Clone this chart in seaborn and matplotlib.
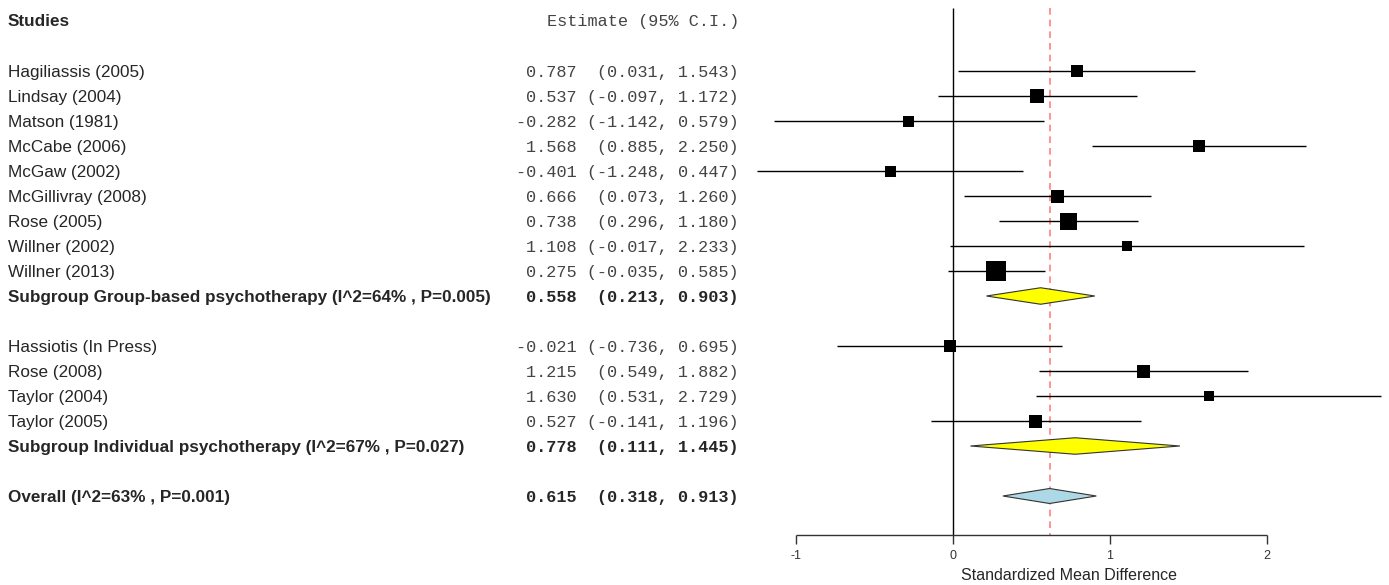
import numpy as np
import pandas as pd
import matplotlib
matplotlib.use("Agg")
import matplotlib.pyplot as plt
import seaborn as sns

# study level data
studies = ["Hagiliassis (2005)", "Lindsay (2004)", "Matson (1981)", "McCabe (2006)",
           "McGaw (2002)", "McGillivray (2008)", "Rose (2005)", "Willner (2002)",
           "Willner (2013)", "Hassiotis (In Press)", "Rose (2008)", "Taylor (2004)",
           "Taylor (2005)"]
est = [0.787, 0.537, -0.282, 1.568, -0.401, 0.666, 0.738, 1.108, 0.275,
       -0.021, 1.215, 1.630, 0.527]
lower = [0.031, -0.097, -1.142, 0.885, -1.248, 0.073, 0.296, -0.017, -0.035,
         -0.736, 0.549, 0.531, -0.141]
upper = [1.543, 1.172, 0.579, 2.250, 0.447, 1.260, 1.180, 2.233, 0.585,
         0.695, 1.882, 2.729, 1.196]
weight = [12, 14, 11, 12, 11, 13, 17, 10, 20, 12, 13, 10, 13]
rows = [1, 2, 3, 4, 5, 6, 7, 8, 9, 12, 13, 14, 15]

# summaries
sum_labels = ["Subgroup Group-based psychotherapy (I^2=64% , P=0.005)",
              "Subgroup Individual psychotherapy (I^2=67% , P=0.027)",
              "Overall (I^2=63% , P=0.001)"]
sum_est = [0.558, 0.778, 0.615]
sum_lower = [0.213, 0.111, 0.318]
sum_upper = [0.903, 1.445, 0.913]
sum_rows = [10, 16, 18]
sum_colors = ["yellow", "yellow", "lightblue"]

ticks = [-1, 0, 1, 2]


def ci_text(e, lo, hi):
    return f"{e:.3f} " + f"({lo:.3f}, {hi:.3f})".rjust(15)


sns.set_style("white")
plt.rcParams["font.family"] = ["Liberation Sans", "DejaVu Sans"]

fig = plt.figure(figsize=(13.89, 5.85), dpi=100)
ax = fig.add_axes([0, 0, 1, 1])
# 157 px per unit, zero at 953 px ; rows 25 px apart, row 1 at 71 px
ax.set_xlim(-953 / 157, (1389 - 953) / 157)
ax.set_ylim(1 + (585 - 71) / 25, 1 - 71 / 25)
ax.axis("off")

axis_y = 1 + (535 - 71) / 25
top_y = 1 - (71 - 8) / 25

ax.vlines(0, top_y, axis_y, color="black", lw=1)
ax.vlines(sum_est[2], top_y, axis_y, color="#ff8080", lw=1.2, ls=(0, (4, 3)))

df = pd.DataFrame({"study": studies, "est": est, "lo": lower, "hi": upper,
                   "w": weight, "row": rows})
ax.hlines(df["row"], df["lo"], df["hi"], color="black", lw=1)
sns.scatterplot(data=df, x="est", y="row", marker="s", color="black",
                s=(df["w"] * 0.72) ** 2, linewidth=0, ax=ax, legend=False, zorder=3)

# diamonds
for e, lo, hi, r, c in zip(sum_est, sum_lower, sum_upper, sum_rows, sum_colors):
    h = 0.33 if c == "yellow" else 0.3
    ax.fill([lo, e, hi, e], [r, r - h, r, r + h], facecolor=c, edgecolor="#333333",
            lw=0.8, zorder=3)

# x axis
ax.hlines(axis_y, ticks[0], ticks[-1], color="#333333", lw=1)
for t in ticks:
    ax.vlines(t, axis_y, axis_y + 0.36, color="#333333", lw=1)
    ax.text(t, axis_y + 0.85, str(t), ha="center", va="center", fontsize=9,
            color="#333333")
ax.text(0.74, axis_y + 1.6, "Standardized Mean Difference", ha="center",
        va="center", fontsize=11.5)

# text columns
left_x = -945 / 157
right_x = (739 - 953) / 157
mono = "Liberation Mono"
sans_size = 12.3
mono_size = 12.2
ax.text(left_x, 1 - 51 / 25, "Studies", fontsize=sans_size, fontweight="bold",
        va="center_baseline", ha="left")
ax.text(right_x, 1 - 51 / 25, "Estimate (95% C.I.)", fontsize=mono_size, family=mono,
        va="center_baseline", ha="right", color="#444444")
for s, e, lo, hi, r in zip(studies, est, lower, upper, rows):
    ax.text(left_x, r, s, fontsize=sans_size, va="center_baseline", ha="left")
    ax.text(right_x, r, ci_text(e, lo, hi), fontsize=mono_size, family=mono,
            va="center_baseline", ha="right", color="#444444")
for s, e, lo, hi, r in zip(sum_labels, sum_est, sum_lower, sum_upper, sum_rows):
    ax.text(left_x, r, s, fontsize=sans_size, fontweight="bold",
            va="center_baseline", ha="left")
    ax.text(right_x, r, ci_text(e, lo, hi), fontsize=mono_size, family=mono,
            fontweight="bold", va="center_baseline", ha="right")

fig.savefig("out.png", dpi=100)
